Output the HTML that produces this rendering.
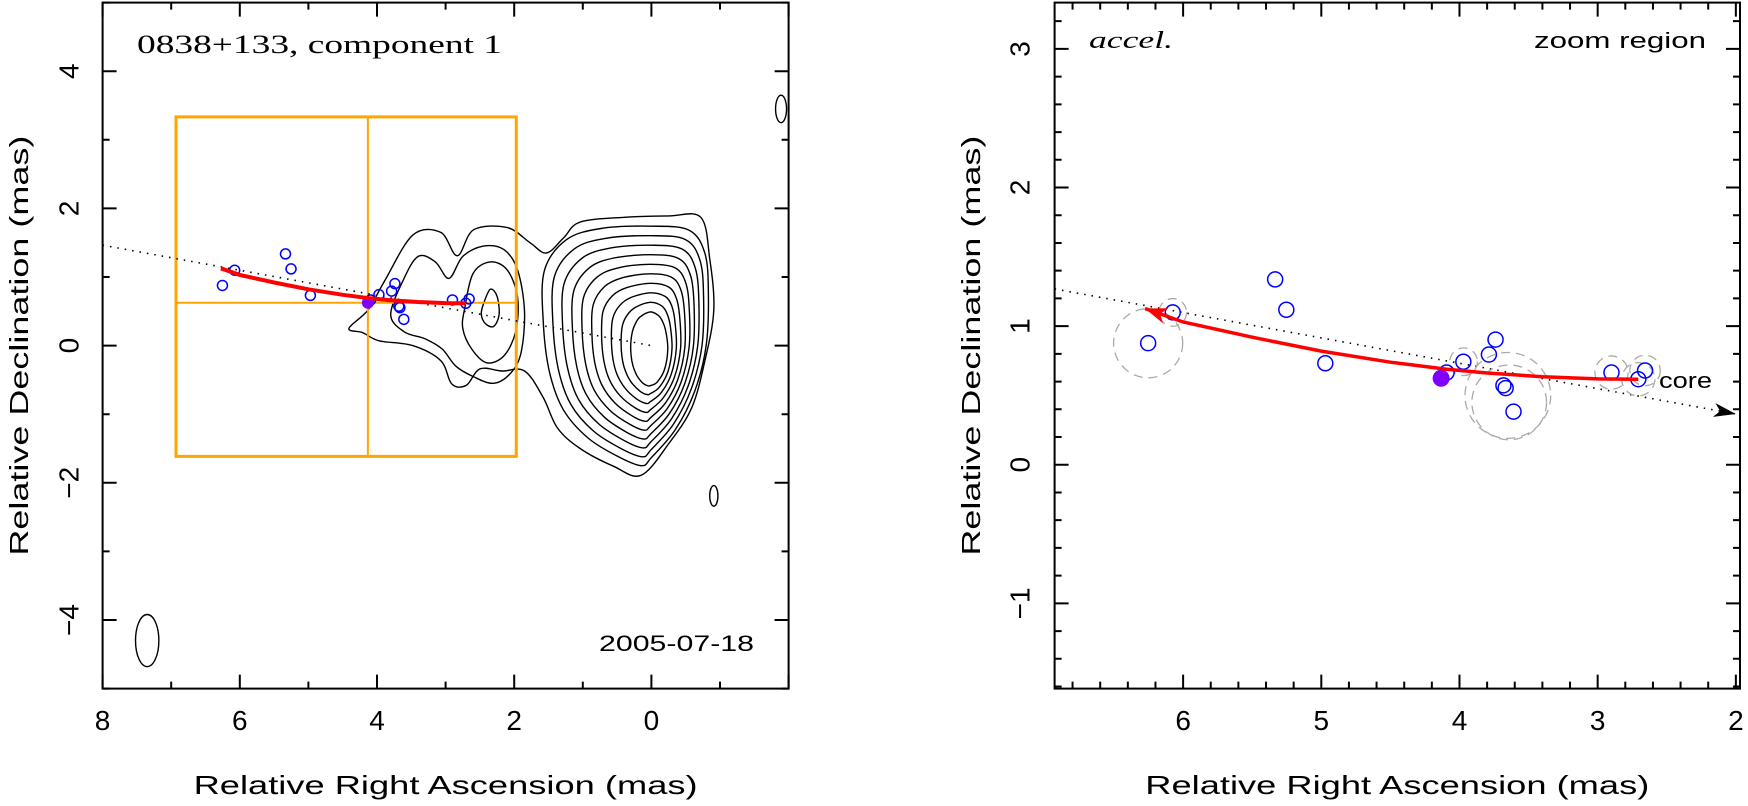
<!DOCTYPE html>
<html><head><meta charset="utf-8">
<style>
html,body{margin:0;padding:0;background:#fff;}
svg{display:block;}
text{font-family:"Liberation Sans",sans-serif;fill:#000;}
</style></head>
<body>
<svg id="chart" width="1748" height="806" viewBox="0 0 1748 806" xmlns="http://www.w3.org/2000/svg">
<g id="left"></g>
<g id="right"></g>
</svg>
<script>
// ---- data ----
const compX = [6.253, 6.075, 5.334, 5.253, 4.971, 4.093, 3.972, 3.787, 3.739, 3.682, 3.666, 3.609, 2.90, 2.706, 2.657];
const compY = [0.877, 1.099, 1.337, 1.118, 0.732, 0.665, 0.743, 0.795, 0.903, 0.573, 0.553, 0.383, 0.665, 0.617, 0.680];
const refX = [4.133];
const refY = [0.624];
const errX = [6.253, 6.075, 3.65, 3.64, 3.97, 2.90, 2.706, 2.657];
const errY = [0.877, 1.099, 0.50, 0.45, 0.743, 0.665, 0.617, 0.680];
const errR = [0.25, 0.10, 0.31, 0.27, 0.10, 0.12, 0.12, 0.11];
const fitX = [2.706, 3.0, 3.4, 3.8, 4.1, 4.5, 5.0, 5.5, 6.0, 6.276];
const fitY = [0.617, 0.619, 0.635, 0.662, 0.69, 0.74, 0.82, 0.92, 1.03, 1.127];
const dirSlope = [0.183];
const leftXTicks = [8, 6, 4, 2, 0];
const leftYTicks = [4, 2, 0, -2, -4];
const rightXTicks = [6, 5, 4, 3, 2];
const rightYTicks = [3, 2, 1, 0, -1];
// contours (mas)
const outerX = [4.41,4.13,3.89,3.48,3.07,2.83,2.59,2.10,1.77,1.53,1.28,1.04,0.39,-0.26,-0.72,-0.85,-0.91,-0.78,-0.59,-0.26,0.15,0.55,1.04,1.37,1.58,1.85,2.18,2.50,2.70,2.91,3.07,3.48,3.97,4.21];
const outerY = [0.25,0.52,0.94,1.61,1.65,1.31,1.69,1.72,1.50,1.35,1.57,1.80,1.87,1.89,1.87,1.27,0.52,-0.22,-0.90,-1.42,-1.89,-1.76,-1.50,-1.20,-0.75,-0.37,-0.37,-0.34,-0.58,-0.56,-0.22,0.0,0.07,0.19];
const jet2X = [3.80,3.62,3.40,3.15,2.95,2.75,2.45,2.15,1.95,1.85,1.90,2.05,2.30,2.60,2.85,3.05,3.30,3.60];
const jet2Y = [0.45,0.95,1.30,1.22,0.98,1.30,1.45,1.40,1.10,0.50,-0.10,-0.40,-0.55,-0.45,-0.30,-0.05,0.10,0.20];
const jet3X = [2.72,2.60,2.35,2.10,1.95,1.98,2.15,2.40,2.62,2.75];
const jet3Y = [0.55,1.05,1.22,1.10,0.70,0.20,-0.15,-0.25,-0.05,0.25];
const jet4X = [2.45,2.35,2.25,2.22,2.30,2.42,2.48];
const jet4Y = [0.60,0.82,0.72,0.45,0.28,0.32,0.45];
const coreX = [1.7,1.35,0.8,0.0,-0.6,-0.85,-0.9,-0.86,-0.68,-0.38,0.0,0.15,0.5,1.0,1.4,1.62,1.72];
const coreY = [1.2,1.68,1.85,1.88,1.82,1.45,0.8,0.0,-0.7,-1.3,-1.75,-1.88,-1.75,-1.45,-1.0,-0.4,0.4];
const blobX = [-1.89, -0.91];
const blobY = [3.45, -2.19];
const blobRX = [0.08, 0.06];
const blobRY = [0.2, 0.15];
const beamX = [7.35], beamY = [-4.3], beamRX = [0.17], beamRY = [0.38];

const NS = "http://www.w3.org/2000/svg";
function el(parent, tag, attrs, txt){
  const e = document.createElementNS(NS, tag);
  for (const k in attrs) e.setAttribute(k, attrs[k]);
  if (txt !== undefined) e.textContent = txt;
  parent.appendChild(e);
  return e;
}
const L = {x0:102.6, x1:788.6, y0:2.6, y1:688.6, vx0:8, vx1:-2, vy0:5, vy1:-5};
const R = {x0:1054.6, x1:1740, y0:2.6, y1:688.6, vx0:6.93, vx1:1.97, vy0:3.334, vy1:-1.615};
function sx(P, v){ return P.x0 + (v - P.vx0) / (P.vx1 - P.vx0) * (P.x1 - P.x0); }
function sy(P, v){ return P.y0 + (v - P.vy0) / (P.vy1 - P.vy0) * (P.y1 - P.y0); }

function frame(g, P, minorStep, majorStep, xt, yt, pre){
  const f = el(g, 'rect', {x:P.x0, y:P.y0, width:P.x1-P.x0, height:P.y1-P.y0, fill:'none', stroke:'#000', 'stroke-width':2});
  
  
  let d = '';
  const xmin = Math.min(P.vx0,P.vx1), xmax = Math.max(P.vx0,P.vx1);
  for (let i = Math.ceil(xmin/minorStep - 1e-6); i*minorStep <= xmax + 1e-6; i++){
    const v = i*minorStep, x = sx(P, v);
    const maj = Math.abs(v/majorStep - Math.round(v/majorStep)) < 1e-6;
    const len = maj ? 14 : 7;
    d += `M${x} ${P.y1}v${-len}M${x} ${P.y0}v${len}`;
  }
  const ymin = Math.min(P.vy0,P.vy1), ymax = Math.max(P.vy0,P.vy1);
  for (let i = Math.ceil(ymin/minorStep - 1e-6); i*minorStep <= ymax + 1e-6; i++){
    const v = i*minorStep, y = sy(P, v);
    const maj = Math.abs(v/majorStep - Math.round(v/majorStep)) < 1e-6;
    const len = maj ? 14 : 7;
    d += `M${P.x0} ${y}h${len}M${P.x1} ${y}h${-len}`;
  }
  const t = el(g, 'path', {d, stroke:'#000', 'stroke-width':2, fill:'none'});
  
  
  xt.forEach(v => {
    const tx = el(g, 'text', {x:sx(P, v), y:730, 'font-size':28, 'text-anchor':'middle'}, v < 0 ? '\u2212'+(-v) : String(v));
    
    
  });
  const lx = pre === 'left' ? 69 : 1020;
  yt.forEach(v => {
    const y = sy(P, v);
    const tx = el(g, 'text', {x:lx, y:y, 'font-size':28, 'text-anchor':'middle', 'dominant-baseline':'central', transform:`rotate(-90 ${lx} ${y})`}, v < 0 ? '\u2212'+(-v) : String(v));
    
    
  });
  const cx = (P.x0+P.x1)/2, cy = (P.y0+P.y1)/2;
  const xl = el(g, 'text', {x:cx, y:794, 'font-size':26, 'text-anchor':'middle', textLength:504, lengthAdjust:'spacingAndGlyphs'}, 'Relative Right Ascension (mas)');
  
  
  const ylx = pre === 'left' ? 28 : 980;
  const yl = el(g, 'text', {x:ylx, y:cy, 'font-size':26, 'text-anchor':'middle', transform:`rotate(-90 ${ylx} ${cy})`, textLength:420, lengthAdjust:'spacingAndGlyphs'}, 'Relative Declination (mas)');
  
  
}

function smooth(P, xs, ys){
  const pts = xs.map((x,i)=>[sx(P,x), sy(P,ys[i])]);
  const n = pts.length;
  let d = `M${pts[0][0].toFixed(1)} ${pts[0][1].toFixed(1)}`;
  for (let i = 0; i < n; i++){
    const p0 = pts[(i-1+n)%n], p1 = pts[i], p2 = pts[(i+1)%n], p3 = pts[(i+2)%n];
    const c1 = [p1[0]+(p2[0]-p0[0])/6, p1[1]+(p2[1]-p0[1])/6];
    const c2 = [p2[0]-(p3[0]-p1[0])/6, p2[1]-(p3[1]-p1[1])/6];
    d += `C${c1[0].toFixed(1)} ${c1[1].toFixed(1)} ${c2[0].toFixed(1)} ${c2[1].toFixed(1)} ${p2[0].toFixed(1)} ${p2[1].toFixed(1)}`;
  }
  return d + 'Z';
}
function line(P, xs, ys){
  return xs.map((x,i)=>(i?'L':'M')+sx(P,x).toFixed(1)+' '+sy(P,ys[i]).toFixed(1)).join('');
}

function series(g, P, pre, r, rr){
  const xa = pre==='left' ? 8 : P.vx0, xb = pre==='left' ? 0 : 2.0;
  const dl = el(g, 'path', {d:`M${sx(P,xa)} ${sy(P,xa*dirSlope[0])}L${sx(P,xb)} ${sy(P,xb*dirSlope[0])}`, stroke:'#000', 'stroke-width':1.6, 'stroke-dasharray':'1.5 6', fill:'none'});
  
  
  if (pre === 'right'){
    const x = sx(P, xb), y = sy(P, xb*dirSlope[0]);
    const a = el(g, 'path', {d:`M${x} ${y}l-22 -7l6 7l-6 7Z`, fill:'#000', transform:`rotate(${Math.atan2(sy(P,xb*dirSlope[0])-sy(P,xa*dirSlope[0]), x-sx(P,xa))*180/Math.PI} ${x} ${y})`});
    
    
    errX.forEach((v,i)=>{
      const c = el(g, 'ellipse', {cx:sx(P,v), cy:sy(P,errY[i]), rx:errR[i]*138.3, ry:errR[i]*138.5, fill:'none', stroke:'#aaa', 'stroke-width':1.3, 'stroke-dasharray':'9 6'});
      
      
    });
  }
  compX.forEach((v,i)=>{
    const c = el(g, 'circle', {cx:sx(P,v), cy:sy(P,compY[i]), r:r, fill:'none', stroke:'#0000ff', 'stroke-width':1.5});
    
    
  });
  refX.forEach((v,i)=>{
    const c = el(g, 'circle', {cx:sx(P,v), cy:sy(P,refY[i]), r:rr, fill:'#8000ff'});
    
    
  });
  const fl = el(g, 'path', {d:line(P, fitX, fitY), stroke:'#ff0000', 'stroke-width':pre==='left'?4:3.5, fill:'none'});
  
  
  if (pre === 'right'){
    const n = fitX.length-1;
    const x = sx(P,fitX[n]), y = sy(P,fitY[n]);
    const ang = Math.atan2(y - sy(P,fitY[n-1]), x - sx(P,fitX[n-1]))*180/Math.PI;
    const a = el(g, 'path', {d:`M${x} ${y}l-22 -8l6 8l-6 8Z`, fill:'#ff0000', transform:`rotate(${ang} ${x} ${y})`});
    
    
  }
}

// ---- left panel ----
const gl = document.getElementById('left');
const cg = el(gl, 'g', {fill:'none', stroke:'#000', 'stroke-width':1.4});


[[outerX,outerY],[jet2X,jet2Y],[jet3X,jet3Y],[jet4X,jet4Y]].forEach(([xs,ys])=>{
  const p = el(cg, 'path', {d:smooth(L, xs, ys)});
  
  
});
// core contours: blend outer shape towards a small ellipse
const erx = 0.24, ery = 0.5, ecx = 0.02, ecy = -0.05;
for (let k = 1; k <= 10; k++){
  const t = k/10.3;
  const xs = [], ys = [];
  coreX.forEach((vx,i)=>{
    const vy = coreY[i];
    const th = Math.atan2(vy/1.9, vx/1.3);
    const ex = ecx + erx*Math.cos(th), ey = ecy + ery*Math.sin(th);
    xs.push((1-t)*vx + t*ex);
    ys.push((1-t)*vy + t*ey);
  });
  const p = el(cg, 'path', {d:smooth(L, xs, ys)});
  
  
}
blobX.forEach((v,i)=>{
  const e = el(cg, 'ellipse', {cx:sx(L,v), cy:sy(L,blobY[i]), rx:blobRX[i]*68.6, ry:blobRY[i]*68.6});
  
  
});
beamX.forEach((v,i)=>{
  const e = el(cg, 'ellipse', {cx:sx(L,v), cy:sy(L,beamY[i]), rx:beamRX[i]*68.6, ry:beamRY[i]*68.6});
  
  
});
const zb = el(gl, 'rect', {x:sx(L,R.vx0), y:sy(L,R.vy0), width:sx(L,R.vx1)-sx(L,R.vx0), height:sy(L,R.vy1)-sy(L,R.vy0), fill:'none', stroke:'#ffa500', 'stroke-width':3});


const zc = el(gl, 'path', {d:`M${sx(L,refX[0])} ${sy(L,R.vy0)}V${sy(L,R.vy1)}M${sx(L,R.vx0)} ${sy(L,refY[0])}H${sx(L,R.vx1)}`, stroke:'#ffa500', 'stroke-width':2, fill:'none'});


series(gl, L, 'left', 5, 6);
frame(gl, L, 1, 2, leftXTicks, leftYTicks, 'left');
const t1 = el(gl, 'text', {x:137, y:53, 'font-size':26, textLength:365, lengthAdjust:'spacingAndGlyphs', style:'font-family:"Liberation Serif",serif'}, '0838+133, component 1');


const t2 = el(gl, 'text', {x:599, y:651, 'font-size':22, textLength:155, lengthAdjust:'spacingAndGlyphs', fill:'#333'}, '2005-07-18');



// ---- right panel ----
const gr = document.getElementById('right');
series(gr, R, 'right', 7.5, 8.5);
frame(gr, R, 0.2, 1, rightXTicks, rightYTicks, 'right');
const t3 = el(gr, 'text', {x:1089, y:48, 'font-size':24, 'font-style':'italic', textLength:84, lengthAdjust:'spacingAndGlyphs', style:'font-family:"Liberation Serif",serif'}, 'accel.');


const t4 = el(gr, 'text', {x:1534, y:48, 'font-size':22, textLength:172, lengthAdjust:'spacingAndGlyphs', fill:'#222'}, 'zoom region');


const t5 = el(gr, 'text', {x:1659, y:388, 'font-size':22, textLength:53, lengthAdjust:'spacingAndGlyphs'}, 'core');


</script>
</body></html>
